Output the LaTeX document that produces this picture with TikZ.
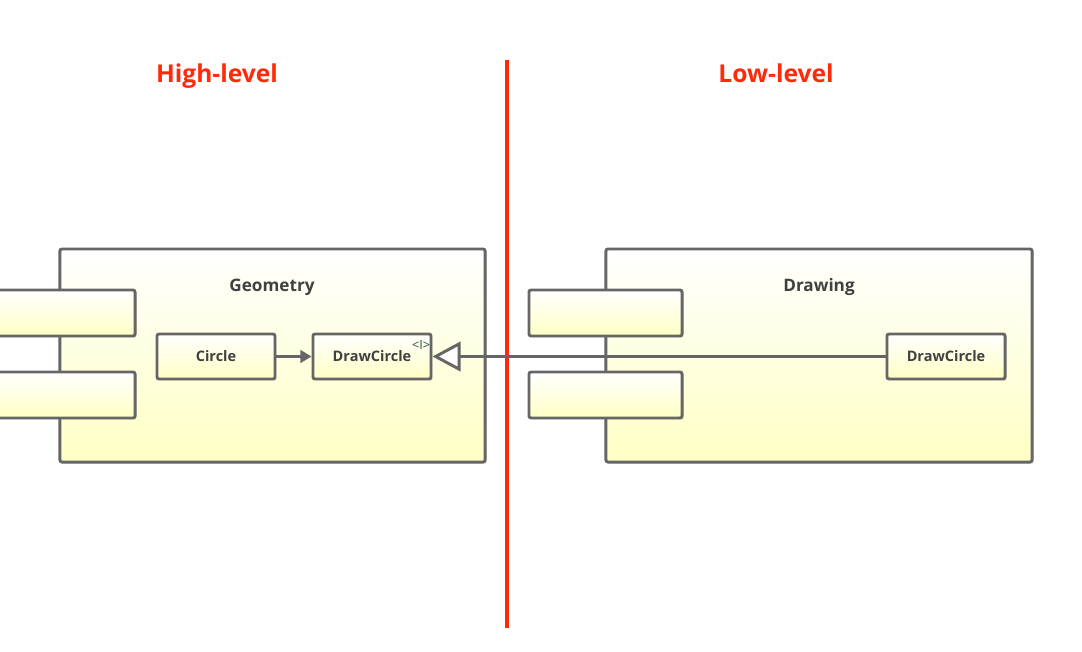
\documentclass[tikz,border=0pt]{standalone}
\usepackage{fontspec}
\setmainfont{Open Sans}
\usetikzlibrary{arrows.meta,shadows}
\definecolor{linegray}{HTML}{666666}
\definecolor{boxyellow}{HTML}{FFFFC4}
\definecolor{sepred}{HTML}{FF2A0A}
\definecolor{ifacegreen}{HTML}{1E5A32}
\tikzset{
  boxbase/.style={draw=linegray, line width=2.1pt, rounded corners=1.5pt,
    top color=white, bottom color=boxyellow, inner sep=0pt,
    drop shadow={shadow xshift=1.2pt, shadow yshift=-1.2pt, opacity=0.18}},
  compbox/.style={boxbase, minimum width=#1, minimum height=5.325cm},
  portbox/.style={boxbase, minimum width=#1, minimum height=1.15cm},
  classbox/.style={boxbase, minimum width=2.95cm, minimum height=1.125cm,
    font=\fontsize{10.3}{12}\selectfont\bfseries, text=black!75},
  title/.style={font=\fontsize{12.2}{14}\selectfont\bfseries, text=black!75,
    anchor=base},
  level/.style={font=\fontsize{17.5}{20}\selectfont\bfseries, text=sepred,
    anchor=base}
}
\begin{document}
\begin{tikzpicture}[x=0.025cm, y=-0.025cm]
  \useasboundingbox (0,0) rectangle (1082,651);

  % Levels and separator
  \node[level] (high) at (217,82) {High-level};
  \node[level] (low) at (776,82) {Low-level};
  \coordinate (septop) at (507,60);
  \coordinate (sepbot) at (507,628);
  \draw[sepred, line width=3pt] (septop) -- (sepbot);

  % Geometry component
  \node[compbox=10.625cm] (geometry) at (272.5,355.5) {};
  \node[title] (geotitle) at (272,291) {Geometry};
  \node[portbox=4.375cm] (geoportA) at (47.5,313) {};
  \node[portbox=4.375cm] (geoportB) at (47.5,395) {};
  \node[classbox] (circle) at (216,356.5) {Circle};
  \node[classbox] (drawL) at (372,356.5) {DrawCircle};
  \node[font=\fontsize{9}{9}\selectfont, text=ifacegreen, anchor=north east,
    inner sep=0pt] (iface) at ([xshift=-0.05cm,yshift=-0.2cm]drawL.north east) {<I>};

  % Drawing component
  \node[compbox=10.65cm] (drawing) at (819,355.5) {};
  \node[title] (drawtitle) at (819,291) {Drawing};
  \node[portbox=3.825cm] (drawportA) at (605.5,313) {};
  \node[portbox=3.825cm] (drawportB) at (605.5,395) {};
  \node[classbox] (drawR) at (946,356.5) {DrawCircle};

  % Connectors
  \draw[linegray, line width=2.1pt, -{Triangle[length=8pt, width=9pt]}]
    (circle) -- (drawL);
  \draw[linegray, line width=2.1pt,
    -{Triangle[open, length=20pt, width=21pt, fill=white]}]
    (drawR) -- (drawL);

\end{tikzpicture}
\end{document}
